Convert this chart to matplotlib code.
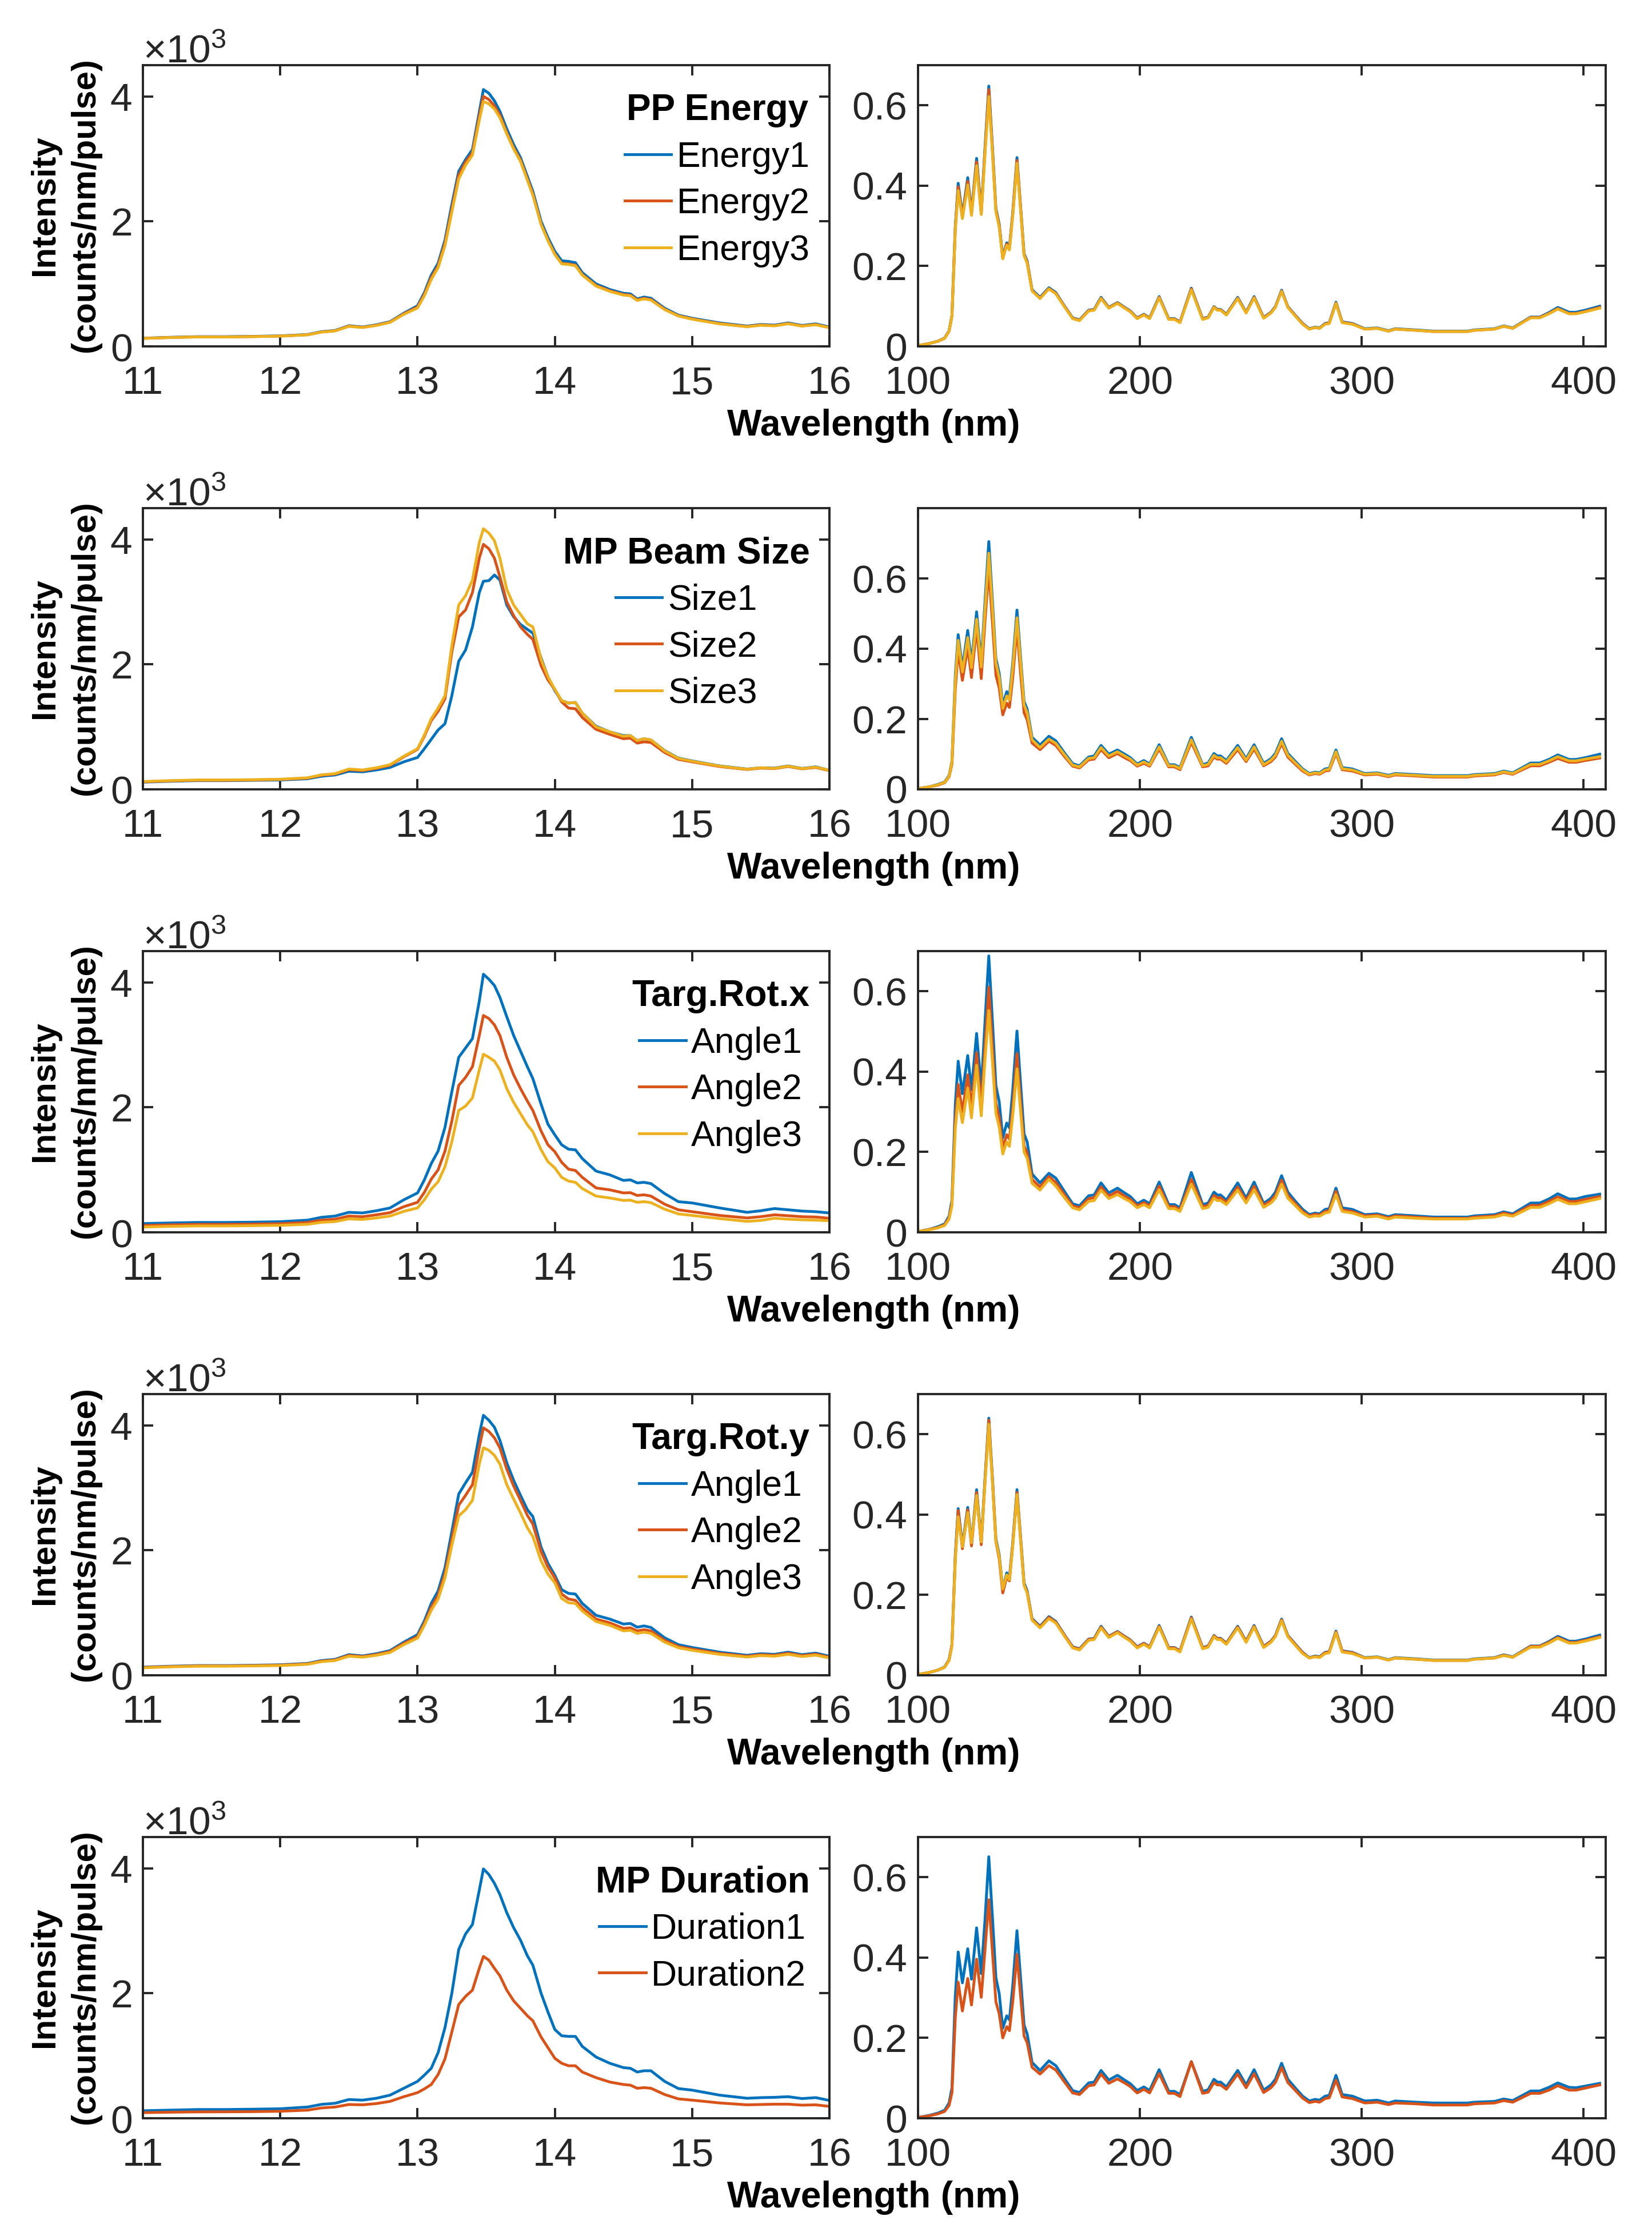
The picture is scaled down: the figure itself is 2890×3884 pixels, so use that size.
import numpy as np
import matplotlib.pyplot as plt
from matplotlib.ticker import ScalarFormatter

plt.rcParams['font.family'] = ['Liberation Sans', 'DejaVu Sans']
plt.rcParams['mathtext.fontset'] = 'custom'
plt.rcParams['mathtext.rm'] = 'Liberation Sans'
plt.rcParams['mathtext.it'] = 'Liberation Sans:italic'
plt.rcParams['mathtext.bf'] = 'Liberation Sans:bold'

# wavelength grids (nm)
wl_euv = [11.0, 11.2, 11.4, 11.6, 11.8, 12.0, 12.2, 12.3, 12.4, 12.5,
          12.6, 12.7, 12.8, 12.9, 13.0, 13.05, 13.1, 13.15, 13.2, 13.25,
          13.3, 13.35, 13.4, 13.45, 13.48, 13.52, 13.56, 13.6, 13.65, 13.7,
          13.75, 13.8, 13.84, 13.9, 13.95, 14.0, 14.05, 14.1, 14.15, 14.2,
          14.3, 14.4, 14.5, 14.55, 14.6, 14.65, 14.7, 14.8, 14.9, 15.0,
          15.2, 15.4, 15.5, 15.6, 15.7, 15.8, 15.9, 16.0]
wl_uv = [100, 105, 109, 112, 114, 115.3, 116.8, 118.1, 120.0, 122.4,
         124.1, 126.4, 128.5, 130.2, 131.9, 133.6, 135.1, 136.6, 138.2, 140.0,
         141.2, 142.7, 144.6, 146.3, 147.8, 149.2, 151.4, 155.0, 159.0, 162.1,
         166.2, 169.7, 172.8, 176.9, 179.4, 182.5, 186.0, 189.9, 193.7, 195.7,
         198.8, 201.8, 204.4, 208.7, 213.0, 215.6, 218.1, 223.2, 228.3, 230.8,
         233.4, 234.9, 236.4, 239.0, 244.1, 247.9, 251.5, 255.8, 259.1, 261.1,
         263.9, 266.7, 270.3, 273.4, 276.4, 279.0, 281.0, 283.5, 285.4, 288.4,
         291.2, 295.8, 301.4, 307.0, 312.1, 315.1, 324.3, 332.4, 347.7, 350.8,
         359.9, 364.0, 368.1, 376.2, 380.3, 384.4, 388.4, 393.5, 396.6, 400.7,
         407.3]

# ---- EUV intensity (counts/nm/pulse) ----
euv_energy1 = [130, 145, 155, 155, 160, 168, 190, 235, 255, 330,
               310, 345, 395, 530, 650, 860, 1140, 1330, 1700, 2270,
               2800, 2990, 3150, 3750, 4110, 4050, 3930, 3760, 3480, 3230,
               3020, 2720, 2480, 2000, 1740, 1520, 1370, 1360, 1340, 1180,
               1000, 910, 850, 840, 760, 790, 770, 610, 500, 450,
               375, 325, 350, 340, 375, 335, 360, 310]
euv_energy2 = [128, 142, 152, 152, 157, 165, 186, 230, 250, 324,
               305, 338, 388, 520, 630, 830, 1100, 1290, 1650, 2200,
               2740, 2950, 3100, 3680, 4000, 3950, 3850, 3700, 3420, 3180,
               2980, 2680, 2440, 1960, 1700, 1480, 1330, 1320, 1300, 1150,
               975, 890, 830, 820, 745, 770, 750, 595, 490, 440,
               365, 318, 342, 332, 366, 328, 350, 302]
euv_energy3 = [127, 141, 151, 151, 156, 164, 185, 228, 248, 320,
               302, 335, 384, 512, 615, 810, 1070, 1260, 1610, 2150,
               2680, 2900, 3060, 3620, 3920, 3880, 3800, 3660, 3400, 3160,
               2960, 2660, 2420, 1950, 1690, 1470, 1320, 1310, 1290, 1140,
               965, 880, 820, 810, 735, 760, 740, 588, 485, 435,
               360, 314, 338, 328, 362, 324, 346, 298]

euv_size1 = [115, 130, 140, 140, 145, 150, 170, 210, 230, 290,
             280, 310, 350, 440, 510, 650, 800, 950, 1050, 1500,
             2050, 2230, 2600, 3150, 3330, 3340, 3430, 3350, 2950, 2760,
             2640, 2560, 2500, 2100, 1800, 1580, 1420, 1380, 1390, 1220,
             1010, 920, 860, 860, 780, 810, 790, 620, 500, 455,
             375, 325, 345, 340, 375, 335, 360, 305]
euv_size2 = [120, 135, 145, 145, 150, 158, 180, 225, 245, 315,
             300, 335, 385, 520, 640, 850, 1100, 1250, 1450, 2200,
             2760, 2870, 3150, 3700, 3920, 3850, 3700, 3400, 3000, 2780,
             2600, 2480, 2400, 1980, 1750, 1600, 1400, 1300, 1290, 1150,
             960, 880, 810, 820, 740, 760, 750, 590, 480, 440,
             365, 318, 340, 332, 366, 328, 350, 300]
euv_size3 = [125, 140, 150, 150, 155, 162, 185, 232, 252, 325,
             310, 345, 395, 530, 650, 870, 1130, 1300, 1500, 2300,
             2950, 3100, 3350, 3950, 4170, 4100, 3980, 3700, 3200, 2950,
             2800, 2650, 2600, 2080, 1800, 1600, 1420, 1380, 1390, 1220,
             1000, 920, 850, 860, 780, 810, 790, 615, 495, 450,
             372, 322, 346, 336, 372, 332, 356, 305]

euv_rotx1 = [140, 150, 158, 158, 162, 170, 195, 240, 260, 320,
             310, 345, 390, 520, 630, 840, 1100, 1300, 1680, 2250,
             2800, 2950, 3100, 3700, 4130, 4050, 3950, 3760, 3450, 3150,
             2900, 2650, 2460, 2050, 1730, 1560, 1400, 1330, 1320, 1180,
             980, 920, 830, 840, 790, 800, 780, 620, 490, 470,
             390, 320, 345, 380, 360, 340, 330, 310]
euv_rotx2 = [110, 120, 128, 128, 132, 138, 158, 195, 210, 260,
             250, 280, 315, 410, 480, 640, 850, 1000, 1300, 1780,
             2350, 2480, 2650, 3150, 3470, 3420, 3320, 3150, 2800, 2520,
             2300, 2100, 1950, 1620, 1400, 1290, 1120, 1010, 990, 880,
             710, 680, 630, 635, 590, 600, 580, 450, 360, 330,
             270, 230, 250, 280, 265, 250, 245, 225]
euv_rotx3 = [85, 95, 102, 102, 106, 112, 128, 160, 172, 215,
             205, 230, 260, 335, 390, 520, 690, 810, 1050, 1450,
             1950, 2020, 2150, 2600, 2850, 2800, 2740, 2600, 2300, 2080,
             1900, 1720, 1610, 1320, 1130, 1030, 880, 820, 800, 700,
             580, 550, 510, 515, 480, 490, 475, 370, 295, 270,
             220, 175, 190, 225, 210, 200, 195, 185]

euv_roty1 = [130, 145, 155, 155, 160, 168, 190, 235, 255, 330,
             310, 345, 395, 530, 650, 870, 1150, 1350, 1720, 2300,
             2900, 3080, 3250, 3850, 4160, 4080, 3970, 3760, 3400, 3120,
             2880, 2650, 2540, 2050, 1790, 1600, 1370, 1310, 1300, 1150,
             960, 900, 820, 830, 770, 790, 765, 600, 490, 445,
             370, 320, 345, 335, 370, 330, 355, 305]
euv_roty2 = [125, 140, 150, 150, 155, 162, 183, 226, 245, 318,
             300, 332, 380, 510, 620, 830, 1090, 1280, 1630, 2180,
             2720, 2880, 3050, 3650, 3960, 3900, 3800, 3640, 3300, 3030,
             2800, 2560, 2420, 1980, 1730, 1560, 1300, 1220, 1200, 1080,
             900, 840, 750, 760, 710, 730, 710, 560, 460, 420,
             350, 305, 330, 320, 352, 315, 338, 290]
euv_roty3 = [120, 135, 145, 145, 150, 156, 176, 218, 236, 305,
             290, 320, 365, 490, 595, 800, 1040, 1220, 1560, 2080,
             2550, 2650, 2800, 3380, 3640, 3600, 3520, 3380, 3050, 2820,
             2600, 2360, 2220, 1830, 1620, 1480, 1230, 1160, 1150, 1030,
             860, 800, 710, 720, 670, 690, 670, 530, 440, 400,
             335, 292, 315, 305, 335, 300, 322, 278]

euv_dur1 = [120, 130, 140, 140, 145, 152, 180, 222, 240, 300,
            290, 320, 370, 480, 590, 690, 800, 1050, 1450, 2000,
            2700, 2950, 3100, 3650, 3990, 3900, 3760, 3580, 3290, 3050,
            2850, 2600, 2450, 2000, 1700, 1420, 1320, 1310, 1310, 1150,
            980, 880, 810, 800, 740, 760, 760, 590, 475, 450,
            370, 320, 330, 335, 345, 315, 330, 285]
euv_dur2 = [90, 97, 102, 103, 106, 112, 130, 165, 180, 220,
            215, 235, 270, 345, 410, 470, 540, 700, 950, 1380,
            1820, 1950, 2050, 2400, 2590, 2530, 2400, 2280, 2050, 1880,
            1760, 1640, 1560, 1300, 1130, 960, 880, 840, 840, 740,
            650, 580, 540, 530, 480, 490, 480, 380, 310, 290,
            245, 215, 220, 225, 225, 210, 215, 190]

# ---- UV intensity (x1e-3) ----
uv_energy1 = [2, 7, 13, 21, 39, 77, 298, 406, 326, 420,
              334, 468, 336, 495, 648, 490, 343, 304, 223, 258,
              246, 333, 470, 343, 231, 212, 141, 122, 146, 134,
              99, 71, 66, 90, 92, 122, 97, 109, 95, 88,
              71, 80, 71, 124, 69, 69, 61, 145, 69, 73,
              99, 92, 92, 80, 122, 85, 124, 72, 85, 99,
              140, 99, 76, 57, 44, 48, 46, 57, 59, 110,
              61, 57, 44, 46, 39, 44, 41, 38, 38, 41,
              44, 51, 46, 73, 73, 84, 97, 85, 85, 90,
              100]
uv_energy2 = [2, 7, 13, 20, 38, 76, 294, 397, 322, 411,
              330, 459, 332, 487, 639, 483, 339, 300, 220, 255,
              243, 329, 463, 339, 228, 209, 139, 120, 144, 132,
              98, 70, 65, 89, 91, 120, 96, 108, 94, 87,
              70, 79, 70, 122, 68, 68, 60, 143, 68, 72,
              98, 91, 91, 79, 120, 84, 122, 71, 84, 98,
              138, 98, 75, 56, 43, 47, 45, 56, 58, 108,
              60, 56, 43, 45, 38, 43, 40, 37, 37, 40,
              43, 50, 45, 72, 72, 82, 94, 82, 82, 87,
              97]
uv_energy3 = [2, 7, 13, 20, 38, 75, 290, 388, 318, 402,
              326, 450, 328, 480, 622, 477, 335, 297, 218, 252,
              240, 325, 456, 335, 226, 207, 138, 119, 143, 131,
              97, 69, 64, 88, 90, 119, 95, 107, 93, 86,
              69, 78, 69, 121, 67, 67, 59, 141, 67, 71,
              97, 90, 90, 78, 119, 83, 121, 70, 83, 97,
              137, 97, 74, 55, 43, 47, 45, 55, 57, 107,
              59, 55, 43, 45, 38, 43, 40, 37, 37, 40,
              43, 50, 45, 71, 71, 81, 93, 81, 81, 86,
              95]

uv_size1 = [2, 7, 14, 21, 40, 80, 325, 440, 345, 452,
            360, 505, 362, 535, 705, 530, 372, 330, 240, 278,
            265, 360, 510, 370, 250, 228, 148, 126, 151, 138,
            102, 73, 67, 92, 95, 125, 100, 112, 98, 90,
            72, 82, 72, 127, 70, 70, 62, 148, 70, 75,
            102, 95, 95, 82, 125, 87, 127, 74, 87, 102,
            144, 102, 78, 58, 45, 49, 47, 58, 60, 112,
            62, 58, 45, 47, 40, 45, 42, 39, 39, 42,
            45, 52, 47, 75, 75, 85, 98, 85, 85, 90,
            100]
uv_size2 = [2, 7, 12, 19, 36, 72, 285, 395, 310, 405,
            318, 460, 315, 480, 628, 470, 325, 288, 212, 245,
            233, 318, 460, 325, 218, 198, 132, 113, 137, 125,
            92, 66, 61, 84, 86, 113, 90, 102, 88, 82,
            66, 74, 66, 115, 64, 64, 56, 134, 64, 67,
            92, 86, 86, 74, 113, 79, 115, 67, 79, 92,
            130, 92, 70, 52, 41, 45, 43, 52, 54, 102,
            56, 52, 41, 43, 36, 41, 38, 35, 35, 38,
            41, 48, 43, 67, 67, 77, 88, 77, 77, 82,
            89]
uv_size3 = [2, 7, 13, 20, 38, 78, 310, 424, 334, 432,
            346, 484, 348, 512, 672, 510, 360, 318, 230, 266,
            254, 346, 488, 356, 240, 218, 141, 119, 143, 131,
            97, 69, 64, 88, 90, 119, 95, 107, 93, 86,
            69, 78, 69, 121, 67, 67, 59, 141, 67, 71,
            97, 90, 90, 78, 119, 83, 121, 70, 83, 97,
            137, 97, 74, 55, 43, 47, 45, 55, 57, 107,
            59, 55, 43, 45, 38, 43, 40, 37, 37, 40,
            43, 50, 45, 71, 71, 81, 93, 81, 81, 86,
            93]

uv_rotx1 = [2, 7, 14, 21, 40, 80, 318, 426, 345, 440,
            355, 495, 358, 525, 688, 520, 365, 325, 235, 272,
            260, 355, 501, 365, 245, 225, 145, 123, 147, 135,
            100, 71, 66, 91, 93, 123, 98, 110, 96, 89,
            71, 80, 71, 125, 69, 69, 61, 149, 69, 73,
            100, 93, 93, 80, 123, 85, 125, 72, 85, 100,
            141, 100, 76, 57, 44, 48, 46, 57, 59, 110,
            61, 57, 44, 46, 39, 44, 41, 38, 38, 41,
            44, 51, 46, 73, 73, 83, 96, 83, 83, 89,
            95]
uv_rotx2 = [2, 7, 12, 19, 36, 72, 280, 368, 300, 392,
            312, 447, 315, 465, 610, 458, 322, 285, 210, 243,
            232, 312, 445, 320, 215, 198, 132, 113, 139, 124,
            92, 66, 61, 84, 86, 113, 90, 102, 88, 82,
            66, 74, 66, 115, 64, 64, 56, 132, 64, 67,
            92, 86, 86, 74, 113, 79, 115, 67, 79, 92,
            130, 92, 70, 52, 41, 45, 43, 52, 54, 102,
            56, 52, 41, 43, 36, 41, 38, 35, 35, 38,
            41, 48, 43, 67, 67, 77, 88, 77, 77, 82,
            89]
uv_rotx3 = [2, 6, 11, 17, 33, 66, 258, 333, 273, 359,
            285, 416, 290, 430, 552, 420, 296, 262, 195, 225,
            214, 290, 407, 296, 200, 184, 122, 105, 132, 115,
            85, 61, 56, 77, 79, 105, 84, 94, 82, 76,
            61, 69, 61, 106, 59, 59, 52, 120, 59, 62,
            85, 79, 79, 69, 105, 73, 106, 62, 73, 85,
            120, 85, 65, 48, 38, 41, 40, 48, 50, 94,
            52, 48, 38, 40, 33, 38, 35, 33, 33, 35,
            38, 44, 40, 62, 62, 71, 82, 71, 71, 76,
            84]

uv_roty1 = [2, 7, 13, 21, 39, 77, 298, 415, 322, 418,
            330, 462, 332, 490, 640, 485, 340, 300, 215, 255,
            244, 330, 462, 340, 230, 210, 141, 122, 146, 134,
            99, 71, 66, 90, 92, 122, 97, 109, 95, 88,
            71, 80, 71, 124, 69, 69, 61, 145, 69, 73,
            99, 92, 92, 80, 122, 85, 124, 72, 85, 99,
            140, 99, 76, 57, 44, 48, 46, 57, 59, 110,
            61, 57, 44, 46, 39, 44, 41, 38, 38, 41,
            44, 51, 46, 73, 73, 84, 97, 85, 85, 90,
            100]
uv_roty2 = [2, 7, 13, 20, 38, 76, 292, 410, 315, 412,
            322, 455, 325, 485, 635, 480, 333, 290, 205, 245,
            235, 325, 455, 333, 226, 206, 139, 120, 144, 132,
            98, 70, 65, 89, 91, 120, 96, 108, 94, 87,
            70, 79, 70, 122, 68, 68, 60, 143, 68, 72,
            98, 91, 91, 79, 120, 84, 122, 71, 84, 98,
            138, 98, 75, 56, 43, 47, 45, 56, 58, 108,
            60, 56, 43, 45, 38, 43, 40, 37, 37, 40,
            43, 50, 45, 72, 72, 82, 94, 82, 82, 87,
            96]
uv_roty3 = [2, 7, 13, 20, 37, 74, 286, 395, 320, 405,
            330, 448, 332, 478, 625, 475, 335, 295, 215, 250,
            238, 322, 450, 332, 224, 205, 137, 118, 141, 130,
            96, 68, 63, 87, 89, 118, 94, 106, 92, 85,
            68, 77, 68, 120, 66, 66, 58, 140, 66, 70,
            96, 89, 89, 77, 118, 82, 120, 69, 82, 96,
            136, 96, 73, 54, 43, 46, 44, 54, 56, 106,
            58, 54, 43, 45, 38, 43, 40, 37, 37, 40,
            43, 49, 45, 70, 70, 80, 92, 80, 80, 85,
            94]

uv_dur1 = [2, 7, 13, 20, 38, 76, 305, 414, 337, 422,
           346, 474, 360, 495, 651, 495, 350, 310, 224, 255,
           245, 330, 467, 345, 232, 210, 139, 119, 143, 131,
           97, 69, 64, 88, 90, 119, 95, 107, 93, 86,
           69, 78, 69, 121, 67, 67, 59, 141, 67, 71,
           97, 90, 90, 78, 119, 83, 121, 70, 83, 97,
           137, 97, 74, 55, 43, 47, 45, 55, 57, 107,
           59, 55, 43, 45, 38, 43, 40, 38, 38, 40,
           42, 48, 44, 68, 68, 77, 88, 77, 76, 80,
           87]
uv_dur2 = [2, 6, 11, 17, 32, 64, 250, 339, 267, 348,
           282, 396, 301, 420, 544, 410, 290, 260, 200, 228,
           218, 290, 408, 300, 205, 188, 127, 110, 131, 120,
           89, 63, 59, 81, 83, 110, 87, 98, 86, 79,
           63, 72, 63, 111, 62, 62, 54, 141, 62, 65,
           89, 83, 83, 72, 110, 76, 111, 64, 76, 89,
           126, 89, 68, 50, 39, 42, 40, 49, 51, 95,
           53, 49, 38, 40, 34, 38, 36, 33, 33, 36,
           38, 44, 40, 62, 62, 70, 81, 70, 70, 75,
           83]

titles = ['PP Energy', 'MP Beam Size', 'Targ.Rot.x', 'Targ.Rot.y', 'MP Duration']
labels = [['Energy1', 'Energy2', 'Energy3'],
          ['Size1', 'Size2', 'Size3'],
          ['Angle1', 'Angle2', 'Angle3'],
          ['Angle1', 'Angle2', 'Angle3'],
          ['Duration1', 'Duration2']]
euv_rows = [[euv_energy1, euv_energy2, euv_energy3],
            [euv_size1, euv_size2, euv_size3],
            [euv_rotx1, euv_rotx2, euv_rotx3],
            [euv_roty1, euv_roty2, euv_roty3],
            [euv_dur1, euv_dur2]]
uv_rows = [[uv_energy1, uv_energy2, uv_energy3],
           [uv_size1, uv_size2, uv_size3],
           [uv_rotx1, uv_rotx2, uv_rotx3],
           [uv_roty1, uv_roty2, uv_roty3],
           [uv_dur1, uv_dur2]]
uv_ymax = [0.7, 0.8, 0.7, 0.7, 0.7]

colors = ['#0072BD', '#D95319', '#EDB120']
axcol = '#262626'

W, H = 2890, 3884
fig = plt.figure(figsize=(W / 100, H / 100), dpi=100)

for i in range(5):
    top = 114 + 775 * i
    hgt = 492
    bottom = 1 - (top + hgt) / H
    axl = fig.add_axes([250 / W, bottom, 1201 / W, hgt / H])
    axr = fig.add_axes([1606 / W, bottom, 1203 / W, hgt / H])

    for y, c, lab in zip(euv_rows[i], colors, labels[i]):
        axl.plot(wl_euv, y, color=c, lw=3.5, label=lab)
    for y, c in zip(uv_rows[i], colors):
        axr.plot(wl_uv, np.array(y) / 1000, color=c, lw=3.5)

    axl.set_xlim(11, 16)
    axl.set_ylim(0, 4500)
    axl.set_xticks([11, 12, 13, 14, 15, 16])
    axl.set_yticks([0, 2000, 4000])
    fmt = ScalarFormatter(useMathText=True)
    axl.yaxis.set_major_formatter(fmt)
    axl.ticklabel_format(axis='y', style='sci', scilimits=(3, 3))

    axr.set_xlim(100, 410)
    axr.set_ylim(0, uv_ymax[i])
    axr.set_xticks([100, 200, 300, 400])
    axr.set_yticks([0, 0.2, 0.4, 0.6])
    axr.set_yticklabels(['0', '0.2', '0.4', '0.6'])

    for ax in (axl, axr):
        ax.tick_params(direction='in', length=13, width=2.8, top=True, right=True,
                       labelsize=50, colors=axcol)
        ax.tick_params(axis='x', pad=24)
        ax.tick_params(axis='y', pad=14)
        for s in ax.spines.values():
            s.set_linewidth(2.8)
            s.set_color(axcol)
    off = axl.yaxis.get_offset_text()
    off.set_color(axcol)
    off.set_fontsize(50)

    axl.legend(title=titles[i], loc='upper right', bbox_to_anchor=(1.0, 0.97),
               frameon=False, fontsize=45,
               title_fontproperties={'weight': 'bold', 'size': 46},
               handlelength=1.3, handletextpad=0.15, labelspacing=0.36,
               borderaxespad=0.05, borderpad=0.5)

    fig.text(1528 / W, 1 - (745 + 775 * i) / H, 'Wavelength (nm)', fontsize=46,
             fontweight='bold', ha='center', va='center')
    fig.text(114 / W, 1 - (359 + 775 * i) / H, 'Intensity\n(counts/nm/pulse)',
             fontsize=43, fontweight='bold', rotation=90, ha='center', va='center',
             multialignment='center', linespacing=1.35)

fig.savefig('out.png', dpi=100, facecolor='white')
